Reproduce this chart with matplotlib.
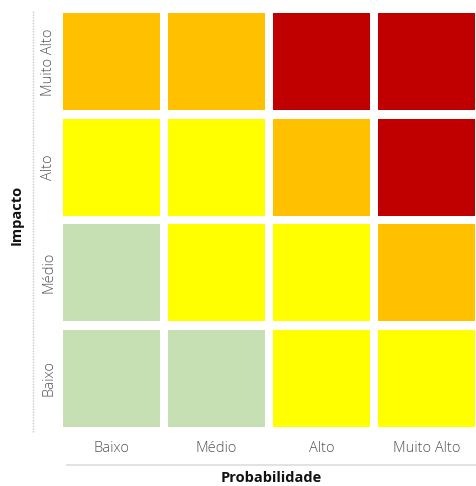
import matplotlib.pyplot as plt
from matplotlib.lines import Line2D

# Matriz de risco: probabilidade (colunas) x impacto (linhas)
probabilidade = ["Baixo", "Médio", "Alto", "Muito Alto"]
impacto = ["Baixo", "Médio", "Alto", "Muito Alto"]

# nível de risco por linha de impacto (de Baixo para Muito Alto)
niveis = [
    ["baixo", "baixo", "medio", "medio"],
    ["baixo", "medio", "medio", "alto"],
    ["medio", "medio", "alto", "critico"],
    ["alto", "alto", "critico", "critico"],
]

cores = {
    "baixo": "#C6E0B4",
    "medio": "#FFFF00",
    "alto": "#FFC000",
    "critico": "#C00000",
}

plt.rcParams['font.family'] = ['Open Sans', 'DejaVu Sans']

fig = plt.figure(figsize=(4.77, 4.86), dpi=100)
W, H = 477, 486
ax = fig.add_axes([59 / W, 1 - 431 / H, 420 / W, 422 / H])

tam = 0.92
for i, linha in enumerate(niveis):
    for j, nivel in enumerate(linha):
        ax.bar(j, tam, width=tam, bottom=i - tam / 2, color=cores[nivel],
               edgecolor='none')

ax.set_xlim(-0.5, 3.5)
ax.set_ylim(-0.5, 3.5)
for s in ax.spines.values():
    s.set_visible(False)
ax.set_xticks(range(4))
ax.set_xticklabels(probabilidade)
ax.set_yticks(range(4))
ax.set_yticklabels(impacto, rotation=90, va='center')
ax.tick_params(length=0, labelsize=10.5, labelcolor='#555555')
ax.tick_params(axis='x', pad=7)
ax.tick_params(axis='y', pad=2)
for t in ax.get_xticklabels() + ax.get_yticklabels():
    t.set_fontweight('light')

# linhas de eixo
fig.add_artist(Line2D([33 / W, 33 / W], [1 - 432 / H, 1 - 10 / H],
                      color='#c8c8c8', lw=1, ls=(0, (1, 1))))
fig.add_artist(Line2D([67 / W, 1.0], [1 - 465 / H, 1 - 465 / H],
                      color='#dddddd', lw=1.2))

fig.text(17 / W, 1 - 215 / H, "Impacto", rotation=90, ha='center', va='center',
         fontsize=10.5, fontweight='bold', color='#111111')
fig.text(271 / W, 1 - 478 / H, "Probabilidade", ha='center', va='center',
         fontsize=10.5, fontweight='bold', color='#111111')

fig.savefig("out.png", dpi=100)
